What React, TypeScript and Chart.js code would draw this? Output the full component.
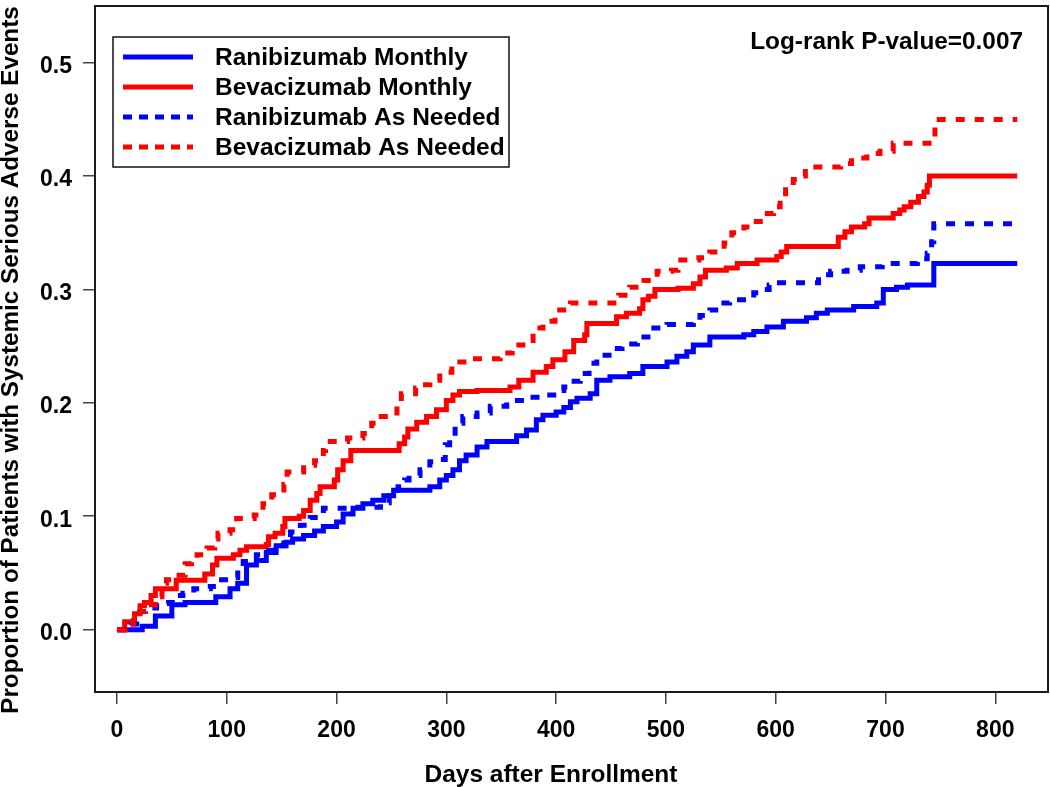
import React, { useEffect, useRef } from "react";
import { Chart, registerables } from "chart.js";

Chart.register(...registerables);

const X_TICKS = [0, 100, 200, 300, 400, 500, 600, 700, 800];
const Y_TICKS = [0, 0.1, 0.2, 0.3, 0.4, 0.5];
const X_TITLE = "Days after Enrollment";
const Y_TITLE = "Proportion of Patients with Systemic Serious Adverse Events";
const PVALUE_TEXT = "Log-rank P-value=0.007";
const SERIES_LABELS = [
  "Ranibizumab Monthly",
  "Bevacizumab Monthly",
  "Ranibizumab As Needed",
  "Bevacizumab As Needed",
];

// Ranibizumab Monthly (blue solid)
const RM_T = [0, 23, 35, 50, 62, 90, 103, 110, 118, 127, 136, 145, 154, 160, 170, 180, 188, 200, 206, 215, 224, 233, 243, 252, 285, 294, 300, 306, 312, 318, 328, 337, 364, 373, 382, 388, 400, 407, 413, 419, 431, 437, 449, 467, 479, 501, 510, 519, 525, 540, 571, 580, 592, 607, 628, 637, 647, 671, 692, 698, 710, 720, 744, 820];
const RM_V = [0, 0.003, 0.012, 0.022, 0.024, 0.029, 0.036, 0.041, 0.057, 0.061, 0.068, 0.074, 0.077, 0.080, 0.083, 0.087, 0.091, 0.095, 0.102, 0.107, 0.111, 0.114, 0.118, 0.123, 0.126, 0.132, 0.136, 0.141, 0.149, 0.154, 0.161, 0.166, 0.171, 0.176, 0.185, 0.189, 0.192, 0.196, 0.201, 0.204, 0.208, 0.220, 0.223, 0.226, 0.232, 0.236, 0.241, 0.245, 0.251, 0.258, 0.260, 0.263, 0.267, 0.272, 0.275, 0.279, 0.282, 0.285, 0.288, 0.300, 0.302, 0.304, 0.323, 0.323];

// Bevacizumab Monthly (red solid)
const BM_T = [0, 7, 16, 21, 25, 31, 35, 54, 80, 87, 91, 106, 112, 118, 136, 138, 144, 151, 153, 166, 170, 176, 182, 185, 198, 201, 206, 213, 257, 262, 265, 273, 282, 291, 300, 306, 312, 328, 358, 366, 379, 391, 397, 408, 416, 426, 428, 455, 464, 476, 479, 484, 490, 511, 525, 531, 536, 555, 565, 583, 601, 605, 610, 657, 663, 669, 681, 685, 707, 713, 717, 723, 730, 735, 738, 740, 820];
const BM_V = [0, 0.007, 0.014, 0.021, 0.024, 0.030, 0.036, 0.0435, 0.049, 0.057, 0.063, 0.066, 0.070, 0.073, 0.075, 0.082, 0.085, 0.091, 0.098, 0.100, 0.105, 0.114, 0.120, 0.126, 0.132, 0.141, 0.149, 0.158, 0.164, 0.170, 0.177, 0.183, 0.188, 0.194, 0.202, 0.207, 0.210, 0.211, 0.214, 0.220, 0.227, 0.232, 0.238, 0.245, 0.255, 0.260, 0.270, 0.276, 0.279, 0.283, 0.291, 0.294, 0.300, 0.301, 0.305, 0.311, 0.317, 0.319, 0.323, 0.326, 0.329, 0.333, 0.338, 0.346, 0.351, 0.355, 0.358, 0.363, 0.367, 0.370, 0.373, 0.377, 0.382, 0.386, 0.392, 0.400, 0.400];

// Ranibizumab As Needed (blue dashed)
const RA_T = [0, 9, 13, 18, 21, 32, 36, 41, 47, 54, 60, 70, 85, 92, 106, 110, 115, 120, 127, 138, 144, 152, 158, 167, 176, 188, 211, 240, 248, 256, 262, 266, 276, 285, 294, 299, 303, 308, 315, 328, 340, 355, 373, 385, 401, 407, 413, 422, 430, 437, 452, 460, 474, 486, 501, 525, 531, 540, 549, 558, 580, 589, 594, 601, 639, 650, 665, 677, 697, 729, 738, 742, 744, 820];
const RA_V = [0, 0.002, 0.005, 0.011, 0.016, 0.019, 0.021, 0.023, 0.024, 0.030, 0.032, 0.036, 0.038, 0.044, 0.046, 0.054, 0.060, 0.063, 0.066, 0.070, 0.074, 0.079, 0.086, 0.092, 0.099, 0.107, 0.108, 0.112, 0.118, 0.126, 0.132, 0.136, 0.141, 0.148, 0.150, 0.163, 0.170, 0.182, 0.188, 0.191, 0.197, 0.202, 0.205, 0.207, 0.211, 0.214, 0.219, 0.226, 0.235, 0.242, 0.248, 0.252, 0.258, 0.266, 0.269, 0.273, 0.277, 0.282, 0.288, 0.291, 0.297, 0.300, 0.304, 0.306, 0.313, 0.316, 0.317, 0.320, 0.323, 0.327, 0.332, 0.342, 0.358, 0.358];

// Bevacizumab As Needed (red dashed)
const BA_T = [0, 8, 15, 21, 26, 35, 41, 45, 53, 62, 68, 73, 82, 89, 92, 103, 109, 125, 133, 141, 152, 155, 170, 180, 188, 190, 210, 224, 232, 237, 249, 255, 259, 272, 276, 285, 294, 305, 310, 322, 349, 360, 373, 379, 388, 399, 413, 457, 467, 480, 492, 505, 511, 530, 540, 553, 560, 571, 578, 589, 598, 604, 609, 616, 622, 627, 659, 669, 683, 695, 707, 745, 820];
const BA_V = [0, 0.005, 0.011, 0.016, 0.022, 0.029, 0.041, 0.044, 0.048, 0.058, 0.063, 0.066, 0.072, 0.080, 0.085, 0.088, 0.098, 0.101, 0.111, 0.119, 0.128, 0.139, 0.145, 0.149, 0.158, 0.166, 0.169, 0.173, 0.182, 0.188, 0.191, 0.200, 0.208, 0.213, 0.216, 0.220, 0.227, 0.233, 0.236, 0.239, 0.244, 0.251, 0.255, 0.266, 0.272, 0.282, 0.288, 0.295, 0.302, 0.308, 0.316, 0.317, 0.326, 0.328, 0.333, 0.341, 0.350, 0.355, 0.360, 0.367, 0.373, 0.380, 0.391, 0.397, 0.400, 0.408, 0.411, 0.416, 0.420, 0.422, 0.429, 0.450, 0.450];

const BLUE = "#0000FF";
const RED = "#FF0000";
const FONT = '"Liberation Sans", Arial, Helvetica, sans-serif';

function fitSize(ctx: CanvasRenderingContext2D, text: string, target: number, base = 24) {
  ctx.font = `bold ${base}px ${FONT}`;
  const w = ctx.measureText(text).width;
  return (base * target) / w;
}

const overlay = {
  id: "overlay",
  afterDraw(chart: any) {
    const ctx: CanvasRenderingContext2D = chart.ctx;
    const { left, top, right, bottom } = chart.chartArea;
    ctx.save();
    // plot box
    ctx.setLineDash([]);
    ctx.strokeStyle = "#1a1a1a";
    ctx.lineWidth = 2;
    ctx.strokeRect(left, top, right - left, bottom - top);

    // legend
    const lx = left + 18;
    const ly = top + 31;
    ctx.lineWidth = 1.5;
    ctx.strokeStyle = "#111";
    ctx.strokeRect(lx, ly, 396, 130);
    const colors = [BLUE, RED, BLUE, RED];
    const dashed = [false, false, true, true];
    const lsize = fitSize(ctx, SERIES_LABELS[0], 253);
    for (let i = 0; i < SERIES_LABELS.length; i++) {
      const cy = ly + 20 + i * 30;
      ctx.beginPath();
      ctx.strokeStyle = colors[i];
      ctx.lineWidth = 5;
      ctx.setLineDash(dashed[i] ? [9, 7] : []);
      ctx.moveTo(lx + 10, cy);
      ctx.lineTo(lx + 80, cy);
      ctx.stroke();
      ctx.setLineDash([]);
      ctx.fillStyle = "#000";
      ctx.font = `bold ${lsize}px ${FONT}`;
      ctx.textAlign = "left";
      ctx.textBaseline = "middle";
      ctx.fillText(SERIES_LABELS[i], lx + 102, cy + 1);
    }

    // p-value
    const psize = fitSize(ctx, PVALUE_TEXT, 273);
    ctx.font = `bold ${psize}px ${FONT}`;
    ctx.textAlign = "right";
    ctx.textBaseline = "alphabetic";
    ctx.fillStyle = "#000";
    ctx.fillText(PVALUE_TEXT, right - 25, top + 43);

    // x title
    const xsize = fitSize(ctx, X_TITLE, 253);
    ctx.font = `bold ${xsize}px ${FONT}`;
    ctx.textAlign = "center";
    ctx.fillText(X_TITLE, 551, 782);

    // y title
    const ysize = fitSize(ctx, Y_TITLE, 708);
    ctx.font = `bold ${ysize}px ${FONT}`;
    ctx.translate(18, 360);
    ctx.rotate(-Math.PI / 2);
    ctx.textAlign = "center";
    ctx.fillText(Y_TITLE, 0, 0);
    ctx.restore();
  },
};

function toPoints(t: number[], v: number[]) {
  return t.map((x, i) => ({ x, y: v[i] }));
}

export default function App() {
  const ref = useRef<HTMLCanvasElement | null>(null);
  useEffect(() => {
    if (!ref.current) return;
    const mk = (label: string, t: number[], v: number[], color: string, dash: number[]) => ({
      label,
      data: toPoints(t, v),
      borderColor: color,
      backgroundColor: color,
      borderWidth: 5,
      borderDash: dash,
      borderCapStyle: "butt" as const,
      borderJoinStyle: "miter" as const,
      stepped: "before" as const,
      pointRadius: 0,
      fill: false,
    });
    const noPad = (s: any) => {
      s.paddingTop = 0;
      s.paddingBottom = 0;
      s.paddingLeft = 0;
      s.paddingRight = 0;
    };
    const chart = new Chart(ref.current, {
      type: "line",
      data: {
        datasets: [
          mk(SERIES_LABELS[3], BA_T, BA_V, RED, [9, 10]),
          mk(SERIES_LABELS[2], RA_T, RA_V, BLUE, [9, 10]),
          mk(SERIES_LABELS[1], BM_T, BM_V, RED, []),
          mk(SERIES_LABELS[0], RM_T, RM_V, BLUE, []),
        ],
      },
      options: {
        responsive: false,
        animation: false,
        devicePixelRatio: 1,
        layout: { padding: { top: 6, right: 2, left: 0, bottom: 0 } },
        plugins: { legend: { display: false }, tooltip: { enabled: false }, title: { display: false } },
        scales: {
          x: {
            type: "linear",
            min: -20,
            max: 848,
            afterBuildTicks: (s: any) => {
              s.ticks = X_TICKS.map((value) => ({ value }));
            },
            afterFit: (s: any) => {
              s.height = 95;
              noPad(s);
            },
            ticks: {
              font: { family: FONT, size: 23, weight: "bold" },
              color: "#000",
              padding: 13,
              maxRotation: 0,
              autoSkip: false,
              callback: (v: any) => String(v),
            },
            grid: { drawOnChartArea: false, drawTicks: true, tickLength: 12, color: "#444", lineWidth: 1.5 },
            border: { display: false },
          },
          y: {
            type: "linear",
            min: -0.055,
            max: 0.55,
            afterBuildTicks: (s: any) => {
              s.ticks = Y_TICKS.map((value) => ({ value }));
            },
            afterFit: (s: any) => {
              s.width = 95;
              noPad(s);
            },
            ticks: {
              font: { family: FONT, size: 23, weight: "bold" },
              color: "#000",
              padding: 11,
              labelOffset: 4,
              autoSkip: false,
              callback: (v: any) => Number(v).toFixed(1),
            },
            grid: { drawOnChartArea: false, drawTicks: true, tickLength: 12, color: "#444", lineWidth: 1.5 },
            border: { display: false },
          },
        },
      },
      plugins: [overlay],
    });
    return () => chart.destroy();
  }, []);
  return (
    <div style={{ position: "absolute", left: 0, top: 0, width: 1050, height: 787, background: "#fff" }}>
      <canvas ref={ref} width={1050} height={787} style={{ display: "block" }} />
    </div>
  );
}
